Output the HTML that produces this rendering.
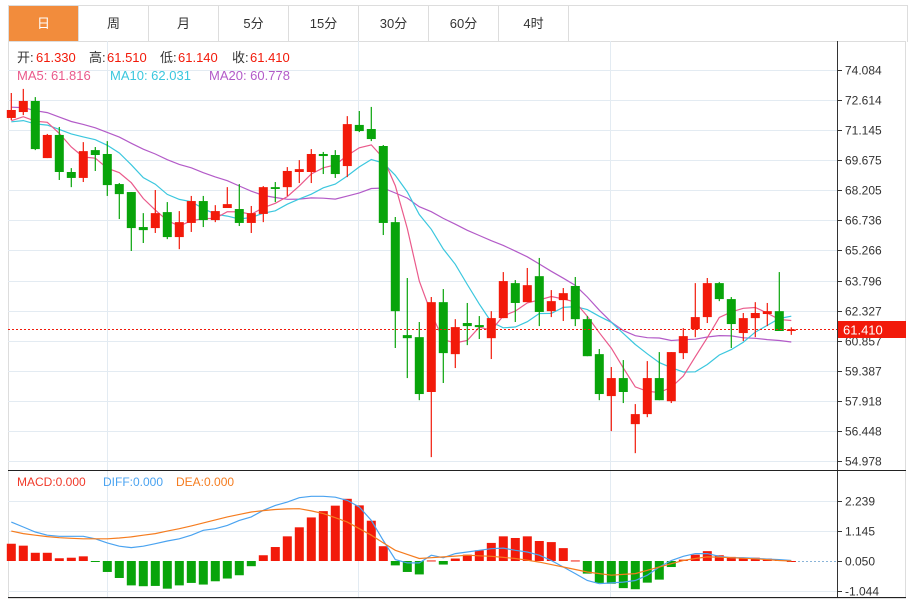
<!DOCTYPE html>
<html><head><meta charset="utf-8">
<style>
body{margin:0;background:#fff;width:910px;height:601px;overflow:hidden;font-family:"Liberation Sans","Noto Sans CJK SC",sans-serif;}
.tabs{position:absolute;left:8px;top:5px;height:36px;width:898px;border:1px solid #ddd;border-bottom:none;}
.tab{position:absolute;top:0;height:36px;width:70px;line-height:36px;text-align:center;font-size:13px;color:#333;border-right:1px solid #ddd;box-sizing:border-box;}
.tab.active{background:#f28c3c;color:#fff;}
svg text{font-family:"Liberation Sans","Noto Sans CJK SC",sans-serif;}
</style></head><body>
<div class="tabs">
<div class="tab active" style="left:0">日</div>
<div class="tab" style="left:70px">周</div>
<div class="tab" style="left:140px">月</div>
<div class="tab" style="left:210px">5分</div>
<div class="tab" style="left:280px">15分</div>
<div class="tab" style="left:350px">30分</div>
<div class="tab" style="left:420px">60分</div>
<div class="tab" style="left:490px">4时</div>
</div>
<svg id="chart" width="910" height="601" style="position:absolute;left:0;top:0"></svg>
<script>
const priceTicks=["74.084","72.614","71.145","69.675","68.205","66.736","65.266","63.796","62.327","60.857","59.387","57.918","56.448","54.978"];
const macdTicks=["2.239","1.145","0.050","-1.044"];
const macdTickVals=[2.189,1.095,0,-1.094];
// candles: open, close, high, low
const opens=[71.74,72.03,72.57,69.78,70.91,69.10,68.81,70.17,69.98,68.51,68.12,66.41,66.36,67.14,65.92,66.61,67.68,66.75,67.34,67.29,66.61,67.05,68.36,68.36,69.10,69.10,69.98,69.93,69.39,71.40,71.20,70.37,66.65,61.13,61.03,58.35,62.74,60.20,61.72,61.62,60.98,61.96,63.67,62.74,64.01,62.30,62.84,63.53,61.91,60.20,58.15,59.03,56.78,57.27,59.03,57.90,60.25,61.42,62.01,63.67,62.89,61.23,61.96,62.16,62.30,61.33];
const closes=[72.13,72.57,70.22,70.91,69.10,68.81,70.12,69.93,68.46,68.02,66.36,66.26,67.09,65.92,66.65,67.68,66.75,67.19,67.53,66.61,67.09,68.36,68.27,69.15,69.24,69.98,69.88,69.00,71.44,71.10,70.71,66.61,62.30,60.98,58.25,62.74,60.25,61.52,61.57,61.52,61.96,63.77,62.70,63.57,62.26,62.79,63.18,61.91,60.10,58.25,59.03,58.35,57.27,59.03,57.95,60.30,61.08,62.01,63.67,62.89,61.67,61.96,62.21,62.30,61.33,61.41];
const highs=[72.96,73.16,72.76,70.96,71.30,69.29,70.56,70.32,70.61,68.56,68.12,67.09,68.22,67.63,67.19,67.93,67.93,67.48,68.36,68.51,67.44,68.41,68.61,69.34,69.68,70.22,70.08,70.17,71.83,72.08,72.28,70.42,66.90,63.92,61.77,62.99,63.38,61.91,62.70,62.06,62.30,64.21,63.82,64.41,64.90,63.33,63.43,63.97,62.06,60.45,59.57,59.91,57.76,59.86,60.30,60.30,61.47,63.67,63.92,63.72,62.99,62.21,62.74,62.70,64.21,61.51];
const lows=[71.64,71.88,70.17,69.78,68.71,68.36,68.61,69.15,67.93,66.80,65.24,65.63,66.12,65.82,65.33,66.17,66.41,66.65,67.34,66.46,66.12,66.65,67.63,67.93,68.56,68.56,69.00,68.81,68.85,71.05,70.61,66.02,60.50,59.03,57.95,55.17,58.79,59.52,60.64,60.94,59.96,61.96,61.77,62.74,61.57,62.01,61.82,61.57,60.10,57.95,56.44,57.81,55.36,57.12,57.95,57.81,59.96,61.03,61.72,62.79,60.50,60.84,61.03,61.57,61.33,61.14];
const prevCloses=[73.0,73.2,72.8,73.5,73.1,72.9,73.3,73.0,72.6,72.4,72.0,71.8,71.5,71.2,71.0,71.6,71.3,71.2,71.8];
const macdHist=[0.63,0.56,0.30,0.30,0.10,0.12,0.17,-0.01,-0.40,-0.62,-0.89,-0.92,-0.91,-1.01,-0.89,-0.80,-0.86,-0.74,-0.64,-0.52,-0.19,0.21,0.51,0.90,1.23,1.59,1.82,2.02,2.27,2.03,1.47,0.54,-0.16,-0.40,-0.49,0.02,-0.13,0.09,0.23,0.39,0.66,0.90,0.84,0.90,0.73,0.69,0.47,0.02,-0.46,-0.80,-0.83,-0.99,-1.03,-0.79,-0.68,-0.22,0.05,0.23,0.36,0.21,0.15,0.12,0.12,0.09,0.05,0.0];
const diffVals=[1.42,1.24,1.06,0.94,0.90,0.90,0.90,0.81,0.66,0.54,0.49,0.54,0.63,0.73,0.81,0.94,1.12,1.18,1.30,1.48,1.61,1.85,2.03,2.15,2.31,2.36,2.36,2.33,2.21,1.97,1.48,0.75,0.05,-0.07,-0.07,0.21,0.12,0.27,0.33,0.39,0.45,0.47,0.39,0.33,0.21,0.02,-0.22,-0.46,-0.71,-0.83,-0.80,-0.77,-0.71,-0.52,-0.22,0.02,0.17,0.27,0.27,0.17,0.12,0.12,0.10,0.07,0.05,0.02];
const deaVals=[1.09,1.00,0.94,0.89,0.85,0.83,0.81,0.81,0.81,0.84,0.88,0.94,1.00,1.09,1.18,1.28,1.39,1.50,1.61,1.70,1.79,1.84,1.88,1.90,1.91,1.83,1.73,1.58,1.42,1.18,0.94,0.66,0.39,0.24,0.09,0.12,0.15,0.18,0.21,0.19,0.17,0.13,0.09,0.03,-0.04,-0.13,-0.22,-0.31,-0.40,-0.46,-0.52,-0.49,-0.46,-0.34,-0.22,-0.10,0.02,0.09,0.15,0.14,0.12,0.10,0.08,0.05,0.02,0.0];

const svg=document.getElementById('chart');
const NS='http://www.w3.org/2000/svg';
function mk(tag,attrs,parent){const e=document.createElementNS(NS,tag);for(const k in attrs)e.setAttribute(k,attrs[k]);(parent||svg).appendChild(e);return e;}
const pTop=74.084,pBot=54.978,yTop=70,yBot=461;
function py(v){return yTop+(pTop-v)*(yBot-yTop)/(pTop-pBot);}
function mx(v){return 561-v*27.4;}
function cx(i){return 11.3+12*i;}
const RED='#f21a0a',GREEN='#08a40a';

mk('rect',{x:8.5,y:41.5,width:897,height:557,fill:'none',stroke:'#ddd'});
priceTicks.forEach((t,k)=>{const v=parseFloat(t);const y=Math.round(py(v))+0.5;
 const g=mk('line',{x1:8,x2:837,y1:y,y2:y,stroke:'#e3ebf2'});
 
 mk('line',{x1:837,x2:842,y1:y,y2:y,stroke:'#333'});
 const tx=mk('text',{x:845,y:y+4,'font-size':12,fill:'#333'});tx.textContent=t;
 
});
[107,358,610].forEach(x=>{mk('line',{x1:x+0.5,x2:x+0.5,y1:41,y2:598,stroke:'#e3ebf2'});});
macdTicks.forEach((t,k)=>{const y=Math.round(mx(macdTickVals[k]))+0.5;
 mk('line',{x1:8,x2:837,y1:y,y2:y,stroke:k==2?'none':'#e3ebf2'});
 mk('line',{x1:837,x2:842,y1:y,y2:y,stroke:'#333'});
 const tx=mk('text',{x:845,y:y+4,'font-size':12,fill:'#333'});tx.textContent=t;
 
});
mk('line',{x1:790,x2:837,y1:561.5,y2:561.5,stroke:'#8ab4d8','stroke-dasharray':'2,2'});
mk('line',{x1:837.5,x2:837.5,y1:41,y2:598,stroke:'#333'});
mk('line',{x1:8,x2:906,y1:470.5,y2:470.5,stroke:'#222'});
mk('line',{x1:8,x2:906,y1:597.5,y2:597.5,stroke:'#222'});

const all=prevCloses.concat(closes);
function ma(n){return closes.map((c,i)=>{const j=i+prevCloses.length;let s=0;for(let k=j-n+1;k<=j;k++)s+=all[k];return s/n;});}
[[20,'#b35bc8','ma20-line'],[10,'#3bc7de','ma10-line'],[5,'#ea5a8b','ma5-line']].forEach(([n,c,name])=>{
 const m=ma(n);const p=mk('polyline',{points:m.map((v,i)=>cx(i)+','+py(v).toFixed(1)).join(' '),fill:'none',stroke:c,'stroke-width':1.2});
 
});
closes.forEach((c,i)=>{const o=opens[i];const up=c>=o;const col=up?RED:GREEN;
 const g=mk('g',{});
 
 const x=cx(i);
 mk('line',{x1:x,x2:x,y1:py(highs[i]),y2:py(lows[i]),stroke:col,'stroke-width':1.2},g);
 const t=py(Math.max(o,c)),b=py(Math.min(o,c));
 mk('rect',{x:x-4.5,y:t,width:9,height:Math.max(1.5,b-t),fill:col},g);
});
const lp=closes[closes.length-1];const ly=Math.round(py(lp))+0.5;
const pl=mk('line',{x1:8,x2:837,y1:ly,y2:ly,stroke:RED,'stroke-dasharray':'2,2'});

const lb=mk('rect',{x:838,y:ly-8.5,width:68,height:17,fill:RED});

const lt=mk('text',{x:843,y:ly+5,'font-size':13,fill:'#fff'});lt.textContent=lp.toFixed(3);

macdHist.forEach((v,i)=>{const x=cx(i);const y0=mx(0),y1=mx(v);
 const r=mk('rect',{x:x-4.5,y:Math.min(y0,y1),width:9,height:Math.max(1,Math.abs(y1-y0)),fill:v>=0?RED:GREEN});
 
});
const dl=mk('polyline',{points:diffVals.map((v,i)=>cx(i)+','+mx(v).toFixed(1)).join(' '),fill:'none',stroke:'#4aa3f0','stroke-width':1.2});

const el=mk('polyline',{points:deaVals.map((v,i)=>cx(i)+','+mx(v).toFixed(1)).join(' '),fill:'none',stroke:'#f57c1f','stroke-width':1.2});


function txt(x,y,s,c,name){const t=mk('text',{x:x,y:y,'font-size':13,fill:c});t.textContent=s;return t;}
txt(17,62,'开:','#333','open-label');txt(36,62,'61.330',RED,'open-value');
txt(89,62,'高:','#333','high-label');txt(107,62,'61.510',RED,'high-value');
txt(160,62,'低:','#333','low-label');txt(178,62,'61.140',RED,'low-value');
txt(232,62,'收:','#333','close-label');txt(250,62,'61.410',RED,'close-value');
txt(17,80,'MA5: 61.816','#ea5a8b','ma5-legend');
txt(110,80,'MA10: 62.031','#3bc7de','ma10-legend');
txt(209,80,'MA20: 60.778','#b35bc8','ma20-legend');
const m1=txt(17,486,'MACD:0.000','#f03a2a','macd-legend');m1.setAttribute('font-size',12);
const m2=txt(103,486,'DIFF:0.000','#4aa3f0','diff-legend');m2.setAttribute('font-size',12);
const m3=txt(176,486,'DEA:0.000','#f57c1f','dea-legend');m3.setAttribute('font-size',12);
</script>
</body></html>
